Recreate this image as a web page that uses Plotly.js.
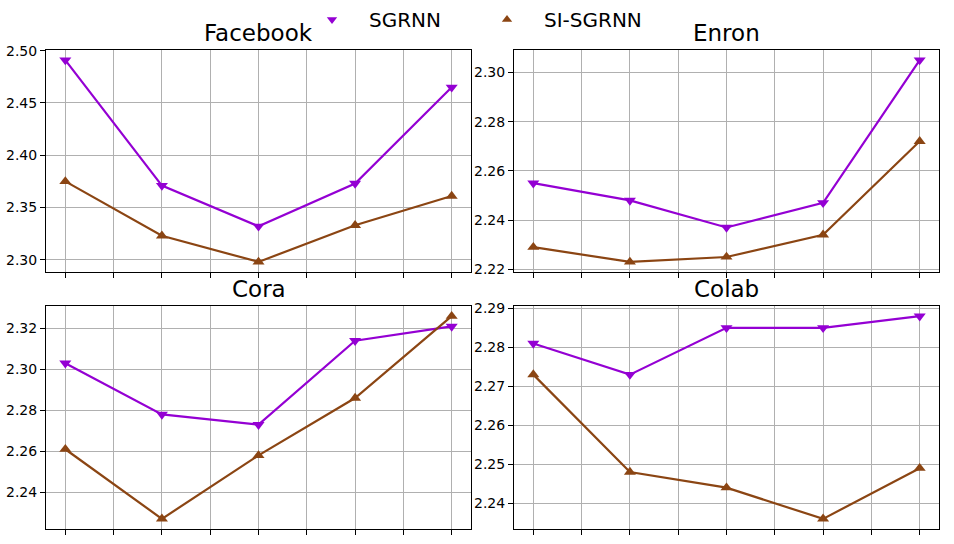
<!DOCTYPE html>
<html>
<head>
<meta charset="utf-8">
<script src="https://cdn.plot.ly/plotly-3.0.1.min.js"></script>
<style>
  html, body { margin: 0; padding: 0; background: #fff; }
  #chart { width: 954px; height: 544px; }
</style>
</head>
<body>
<div id="chart"></div>
<script>
const steps = [0, 1, 2, 3, 4];
const datasets = ['Facebook', 'Enron', 'Cora', 'Colab'];
const methods = ['SGRNN', 'SI-SGRNN'];

const sgrnnFacebook = [2.491, 2.371, 2.332, 2.373, 2.465];
const siFacebook    = [2.375, 2.323, 2.298, 2.333, 2.361];
const sgrnnEnron    = [2.255, 2.248, 2.237, 2.247, 2.305];
const siEnron       = [2.229, 2.223, 2.225, 2.234, 2.272];
const sgrnnCora     = [2.303, 2.278, 2.273, 2.314, 2.321];
const siCora        = [2.261, 2.227, 2.258, 2.286, 2.326];
const sgrnnColab    = [2.281, 2.273, 2.285, 2.285, 2.288];
const siColab       = [2.273, 2.248, 2.244, 2.236, 2.249];

const yTickStep = [0.05, 0.02, 0.02, 0.01];

const series = [
  [sgrnnFacebook, siFacebook],
  [sgrnnEnron, siEnron],
  [sgrnnCora, siCora],
  [sgrnnColab, siColab]
];

const colors = ['#9400D3', '#8B4513'];
const symbols = ['triangle-down', 'triangle-up'];
const FONT = 'DejaVu Sans, sans-serif';

// panel boxes in pixels (left, right, top, bottom) of a 954x544 page
const W = 954, H = 544;
const cols = [[46, 471], [514, 939]];
const rows = [[50, 272], [306, 529]];

let traces = [];
let layout = {
  width: W,
  height: H,
  margin: {l: 0, r: 0, t: 0, b: 0},
  paper_bgcolor: '#fff',
  plot_bgcolor: '#fff',
  font: {family: FONT, color: '#000', size: 14},
  showlegend: true,
  legend: {
    orientation: 'h',
    x: 295 / W, xanchor: 'left',
    y: 1, yanchor: 'top',
    font: {size: 20, family: FONT},
    itemwidth: 64,
    entrywidth: 96, entrywidthmode: 'pixels',
    bgcolor: 'rgba(0,0,0,0)'
  },
  annotations: []
};

datasets.forEach(function(name, i) {
  let col = cols[i % 2], row = rows[Math.floor(i / 2)];
  let n = i + 1;
  let xa = 'x' + (n === 1 ? '' : n), ya = 'y' + (n === 1 ? '' : n);
  let xKey = 'xaxis' + (n === 1 ? '' : n), yKey = 'yaxis' + (n === 1 ? '' : n);

  series[i].forEach(function(vals, k) {
    traces.push({
      x: steps, y: vals,
      xaxis: xa, yaxis: ya,
      mode: 'lines+markers',
      line: {color: colors[k], width: 2.2},
      marker: {symbol: symbols[k], size: 10.5, color: colors[k]},
      showlegend: false,
      name: methods[k]
    });
  });

  let all = series[i][0].concat(series[i][1]);
  let lo = Math.min.apply(null, all), hi = Math.max.apply(null, all);
  let pad = (hi - lo) * 0.05;

  let halfTicks = [];
  for (let t = 0; t <= 4; t += 0.5) halfTicks.push(t);

  layout[xKey] = {
    domain: [col[0] / W, col[1] / W],
    anchor: ya,
    range: [-0.2, 4.2],
    tickvals: halfTicks,
    showticklabels: false,
    ticks: 'outside', ticklen: 5, tickcolor: '#000', tickwidth: 1,
    showgrid: true, gridcolor: '#b0b0b0', gridwidth: 1,
    zeroline: false,
    showline: true, linecolor: '#000', linewidth: 1, mirror: true
  };
  layout[yKey] = {
    domain: [1 - row[1] / H, 1 - row[0] / H],
    anchor: xa,
    range: [lo - pad, hi + pad],
    dtick: yTickStep[i],
    tick0: 2,
    tickformat: '.2f',
    ticks: 'outside', ticklen: 5, tickcolor: '#000', tickwidth: 1,
    tickfont: {size: 14, family: FONT},
    showgrid: true, gridcolor: '#b0b0b0', gridwidth: 1,
    zeroline: false,
    showline: true, linecolor: '#000', linewidth: 1, mirror: true
  };

  layout.annotations.push({
    text: name,
    xref: 'paper', yref: 'paper',
    x: (col[0] + col[1]) / 2 / W,
    y: 1 - row[0] / H,
    xanchor: 'center', yanchor: 'bottom',
    yshift: 2,
    showarrow: false,
    font: {size: 23, family: FONT, color: '#000'}
  });
});

// legend entries: markers only
methods.forEach(function(m, k) {
  traces.push({
    x: [null], y: [null],
    mode: 'markers',
    marker: {symbol: symbols[k], size: 9, color: colors[k]},
    name: m,
    showlegend: true
  });
});

Plotly.newPlot('chart', traces, layout, {staticPlot: true});
</script>
</body>
</html>
